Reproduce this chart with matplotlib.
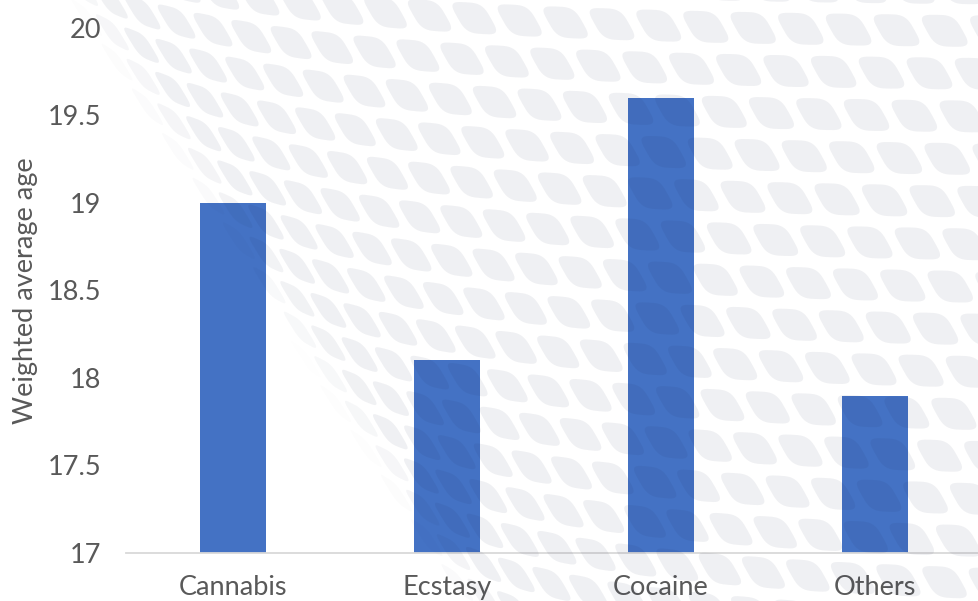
"""Weighted average age of first use, by substance."""
import matplotlib
matplotlib.use("Agg")
import matplotlib.pyplot as plt
from matplotlib.collections import PolyCollection
import numpy as np

categories = ["Cannabis", "Ecstasy", "Cocaine", "Others"]
avg_age = [19.0, 18.1, 19.6, 17.9]
y_ticks = [17, 17.5, 18, 18.5, 19, 19.5, 20]
y_tick_labels = ["17", "17.5", "18", "18.5", "19", "19.5", "20"]

W, H = 979, 601
BAR_COLOR = "#4472C4"
TEXT_COLOR = "#595959"

# decorative mesh: lattice of rounded parallelograms (pixel units, y down),
# squeezed toward a diagonal edge so it reads like a curved net
P0 = np.array([70.0, 0.0])
T_DIR = np.array([0.646, 1.0]) / np.hypot(0.646, 1.0)
N_DIR = np.array([T_DIR[1], -T_DIR[0]])
S0, SCALE_LEN = 0.22, 260.0


def blob(w, h, k, n=40):
    th = np.linspace(0, 2 * np.pi, n, endpoint=False)
    c, s = np.cos(th), np.sin(th)
    x = np.sign(c) * np.abs(c) ** 0.55 * w / 2
    y = np.sign(s) * np.abs(s) ** 0.55 * h / 2
    return np.column_stack([x + k * y, y])


def squeeze(d):
    d = np.clip(d, 0, None)
    return S0 * d + (1 - S0) * (d - SCALE_LEN * (1 - np.exp(-d / SCALE_LEN)))


def warp(pts):
    rel = pts - P0
    s = rel @ T_DIR
    d = rel @ N_DIR
    return P0 + np.outer(s, T_DIR) + np.outer(squeeze(d), N_DIR)


def mesh_polys():
    a = np.array([49.0, 0.0])
    b = np.array([-16.0, 43.0])
    shape = blob(37, 32, 0.55)
    polys, alphas = [], []
    for i in range(-25, 50):
        for j in range(-15, 40):
            c = np.array([0.0, 10.0]) + i * a + j * b
            d = (c - P0) @ N_DIR
            if d <= 8:
                continue
            wc = warp(c[None, :])[0]
            if not (-60 < wc[0] < W + 60 and -60 < wc[1] < H + 60):
                continue
            pts = warp(c + shape)
            polys.append(np.column_stack([pts[:, 0] / W, 1 - pts[:, 1] / H]))
            alphas.append(0.066 * min(1.0, (d - 8) / 90.0))
    return polys, alphas


fig = plt.figure(figsize=(W / 100, H / 100), dpi=100)
ax = fig.add_axes([126 / W, 48 / H, 856 / W, 525 / H])

x = np.arange(len(categories))
ax.bar(x, avg_age, width=0.313, color=BAR_COLOR, zorder=2)

ax.set_xlim(-0.5, len(categories) - 0.5)
ax.set_ylim(17, 20)
ax.set_yticks(y_ticks)
ax.set_yticklabels(y_tick_labels)
ax.set_xticks(x)
ax.set_xticklabels(categories)

font = "Lato"
ax.tick_params(axis="both", length=0, colors=TEXT_COLOR, labelsize=19.5)
ax.tick_params(axis="y", pad=18)
ax.tick_params(axis="x", pad=16)
for lbl in ax.get_xticklabels() + ax.get_yticklabels():
    lbl.set_fontfamily(font)

for side in ("top", "right", "left"):
    ax.spines[side].set_visible(False)
ax.spines["bottom"].set_color("#d9d9d9")
ax.spines["bottom"].set_linewidth(1.3)

ax.set_ylabel("Weighted average age", fontsize=19.5, color=TEXT_COLOR,
              fontfamily=font, va="center")
ax.yaxis.set_label_coords(-100 / 856, 0.5)

polys, alphas = mesh_polys()
mesh = PolyCollection(polys, transform=fig.transFigure,
                      facecolors=[(0.1, 0.15, 0.3, al) for al in alphas],
                      edgecolors="none", zorder=3, clip_on=False)
ax.add_collection(mesh, autolim=False)

fig.savefig("out.png", dpi=100)
